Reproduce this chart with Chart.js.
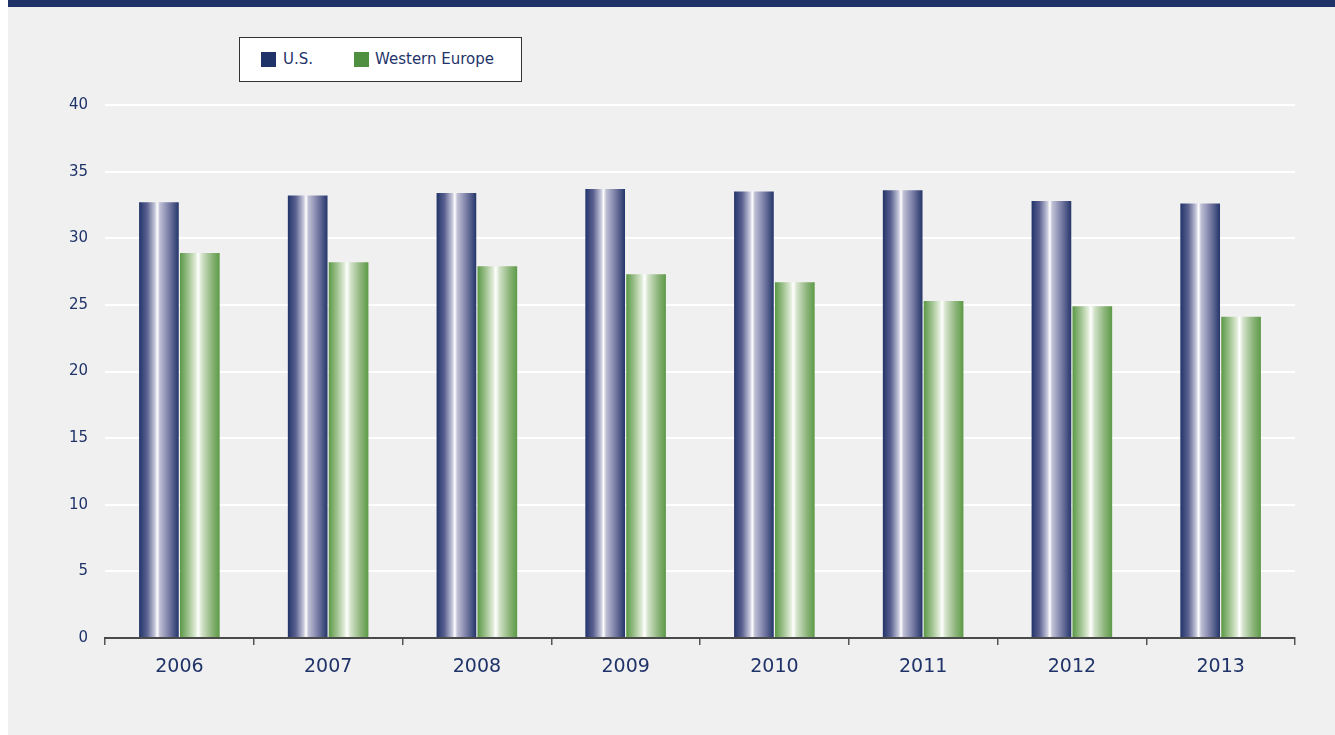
<!DOCTYPE html>
<html>
<head>
<meta charset="utf-8">
<script src="https://cdn.jsdelivr.net/npm/chart.js@4/dist/chart.umd.min.js"></script>
<style>
  html, body { margin: 0; padding: 0; background: #ffffff; }
  #panel {
    position: absolute; left: 8px; top: 0; width: 1327px; height: 728px;
    background: #f0f0f0; border-top: 7px solid #1f3369;
  }
  #chartBox { position: absolute; left: 0; top: 0; width: 1327px; height: 728px; }
  #legend {
    position: absolute; left: 231px; top: 30px; width: 281px; height: 43px;
    background: #ffffff; border: 1px solid #333;
    font-family: "DejaVu Sans", sans-serif; font-size: 15px; color: #1f3369;
  }
  .item { position: absolute; top: 13px; line-height: 17px; }
  .sw { position: absolute; top: 0; width: 15px; height: 15px; }
</style>
</head>
<body>
<div id="panel">
  <div id="chartBox"><canvas id="c"></canvas></div>
  <div id="legend">
    <div class="sw" style="left:21px;top:14px;background:#1f3369"></div>
    <div class="item" style="left:43px">U.S.</div>
    <div class="sw" style="left:114px;top:14px;background:#4f9040"></div>
    <div class="item" style="left:135px">Western Europe</div>
  </div>
</div>
<script>
const years = ["2006", "2007", "2008", "2009", "2010", "2011", "2012", "2013"];
const usValues = [32.7, 33.2, 33.4, 33.7, 33.5, 33.6, 32.8, 32.6];
const weValues = [28.9, 28.2, 27.9, 27.3, 26.7, 25.3, 24.9, 24.1];
const yTicks = [0, 5, 10, 15, 20, 25, 30, 35, 40];

const navy = "#1f3369";

// couleurs des dégradés horizontaux (sombre -> blanc -> sombre)
const stopsUS = [[0, "#22346a"], [0.2, "#5a6190"], [0.4, "#c8c9dc"], [0.46, "#ffffff"], [0.52, "#c0c1d6"], [0.75, "#7a7ea6"], [1, "#243569"]];
const stopsWE = [[0, "#5a9945"], [0.2, "#9cc08c"], [0.4, "#e2edda"], [0.46, "#ffffff"], [0.55, "#d4e3cb"], [0.8, "#8db57b"], [1, "#5c9a47"]];

const barGradient = {
  id: "barGradient",
  beforeDatasetsDraw(chart) {
    const ctx = chart.ctx;
    chart.data.datasets.forEach((ds, i) => {
      const stops = i === 0 ? stopsUS : stopsWE;
      chart.getDatasetMeta(i).data.forEach(bar => {
        const l = bar.x - bar.width / 2;
        const r = bar.x + bar.width / 2;
        const g = ctx.createLinearGradient(l, 0, r, 0);
        stops.forEach(s => g.addColorStop(s[0], s[1]));
        bar.options = { ...bar.options, backgroundColor: g };
      });
    });
  }
};

const canvas = document.getElementById("c");
new Chart(canvas.getContext("2d"), {
  type: "bar",
  data: {
    labels: years,
    datasets: [
      { label: "U.S.", data: usValues, backgroundColor: navy },
      { label: "Western Europe", data: weValues, backgroundColor: "#4f9040" }
    ]
  },
  options: {
    responsive: true,
    maintainAspectRatio: false,
    animation: false,
    datasets: { bar: { categoryPercentage: 0.55, barPercentage: 0.97 } },
    layout: { padding: { top: 98, right: 40, left: 0, bottom: 0 } },
    plugins: { legend: { display: false }, tooltip: { enabled: false } },
    scales: {
      x: {
        grid: { drawOnChartArea: false, drawTicks: true, tickLength: 7, color: "#555", lineWidth: 1.5 },
        border: { display: true, color: "#4a4a4a", width: 2 },
        ticks: { color: navy, font: { family: "DejaVu Sans", size: 19 }, padding: 11 },
        afterFit: s => { s.height = 97; }
      },
      y: {
        min: 0, max: 40,
        afterBuildTicks: s => { s.ticks = yTicks.map(v => ({ value: v })); },
        grid: { color: "#ffffff", lineWidth: 2, drawTicks: false },
        border: { display: false },
        ticks: { color: navy, font: { family: "DejaVu Sans", size: 15 }, padding: 17 },
        afterFit: s => { s.width = 97; }
      }
    }
  },
  plugins: [barGradient]
});
</script>
</body>
</html>
